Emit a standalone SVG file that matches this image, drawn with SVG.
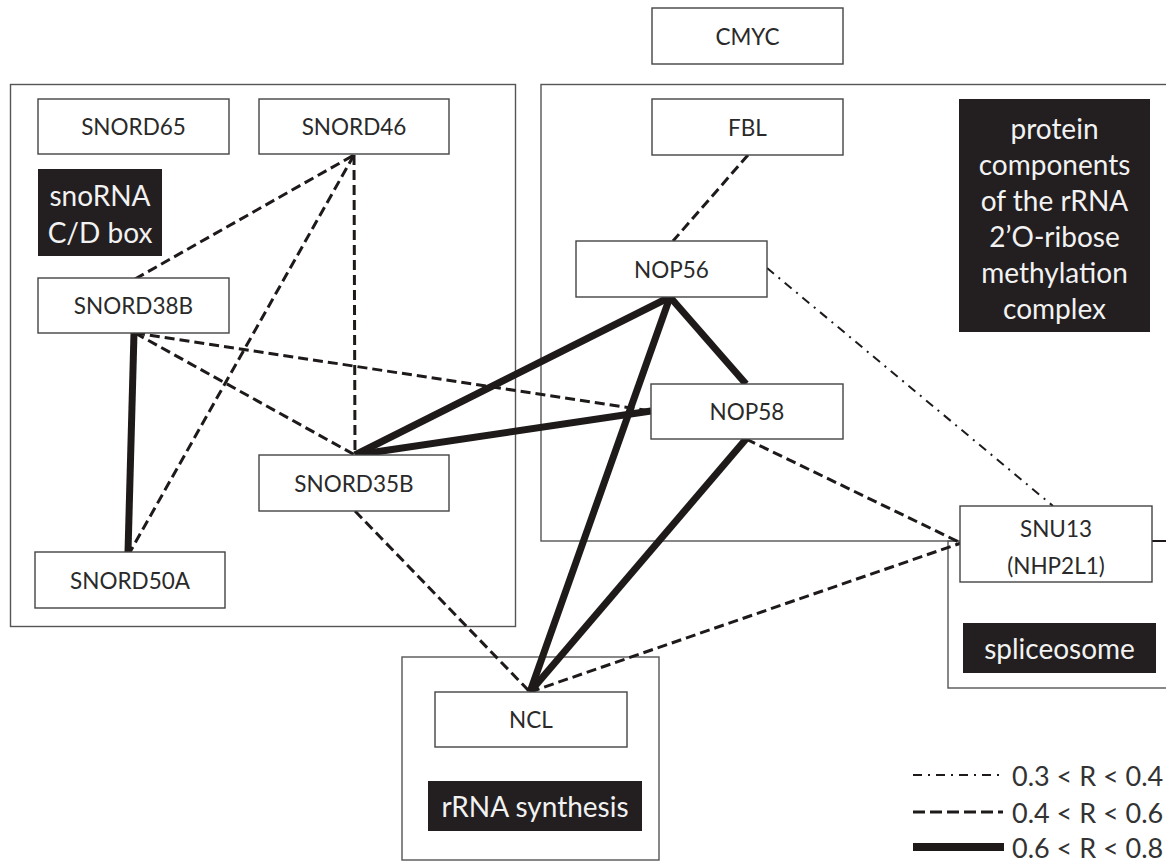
<svg xmlns="http://www.w3.org/2000/svg" width="1166" height="863" viewBox="0 0 1166 863">
<style>
.grp{fill:none;stroke:#555;stroke-width:1.4}
.node rect{fill:#fff;stroke:#444;stroke-width:1.4}
.node text{font-family:Lato,"Open Sans",sans-serif;font-size:22.5px;fill:#2a2a2a;text-anchor:middle;dominant-baseline:central}
.lbl rect{fill:#231f20}
.lbl text{font-family:Lato,"Open Sans",sans-serif;font-size:28px;fill:#f2f2f2;text-anchor:middle;dominant-baseline:central}
.solid{stroke:#1e1a1a;stroke-width:7;fill:none;stroke-linecap:butt}
.dash{stroke:#1e1a1a;stroke-width:3;fill:none;stroke-dasharray:10 5}
.dd{stroke:#1e1a1a;stroke-width:2;fill:none;stroke-dasharray:9 6 2 6}
.leg{font-family:Lato,"Open Sans",sans-serif;font-size:27px;fill:#333;dominant-baseline:central}
</style>
<rect width="1166" height="863" fill="#fff"/>
<g id="groups">
<rect class="grp" x="10.5" y="84.5" width="505" height="542"/>
<rect class="grp" x="541" y="84.5" width="700" height="456.5"/>
<rect class="grp" x="948" y="541" width="300" height="147"/>
<rect class="grp" x="402" y="657" width="257" height="203"/>
</g>
<g id="connectors">
<line class="dash" x1="135" y1="279" x2="354" y2="155"/>
<line class="dash" x1="354" y1="155" x2="355" y2="455"/>
<line class="dash" x1="354" y1="155" x2="130" y2="552"/>
<line class="dash" x1="135" y1="333" x2="355" y2="455"/>
<line class="dash" x1="135" y1="333" x2="651" y2="411"/>
<line class="dash" x1="355" y1="511" x2="530" y2="692"/>
<line class="dash" x1="748" y1="155" x2="673" y2="241"/>
<line class="dash" x1="746" y1="439" x2="961" y2="543"/>
<line class="dash" x1="530" y1="692" x2="961" y2="543"/>
<line class="dd" x1="767" y1="268" x2="1053" y2="506"/>
<line class="solid" x1="134" y1="333" x2="128" y2="552"/>
<line class="solid" x1="355" y1="455" x2="670" y2="297"/>
<line class="solid" x1="355" y1="455" x2="651" y2="411"/>
<line class="solid" x1="670" y1="297" x2="746" y2="384"/>
<line class="solid" x1="670" y1="297" x2="530" y2="692"/>
<line class="solid" x1="746" y1="439" x2="530" y2="692"/>
<line class="solid" x1="1152" y1="541" x2="1166" y2="541" style="stroke-width:2"/>
</g>
<g id="SNORD65" class="node"><rect x="38" y="99" width="191" height="55"/><text x="133.5" y="126.5">SNORD65</text></g>
<g id="SNORD46" class="node"><rect x="259" y="99" width="190" height="55"/><text x="354" y="126.5">SNORD46</text></g>
<g id="SNORD38B" class="node"><rect x="38" y="278" width="191" height="55"/><text x="133.5" y="305.5">SNORD38B</text></g>
<g id="SNORD35B" class="node"><rect x="259" y="455" width="190" height="56"/><text x="354" y="483">SNORD35B</text></g>
<g id="SNORD50A" class="node"><rect x="35" y="552" width="190" height="56"/><text x="130" y="580">SNORD50A</text></g>
<g id="CMYC" class="node"><rect x="652" y="8" width="191" height="56"/><text x="747.5" y="36">CMYC</text></g>
<g id="FBL" class="node"><rect x="652" y="99" width="191" height="56"/><text x="747.5" y="127">FBL</text></g>
<g id="NOP56" class="node"><rect x="576" y="241" width="191" height="56"/><text x="671.5" y="269">NOP56</text></g>
<g id="NOP58" class="node"><rect x="651" y="384" width="192" height="55"/><text x="747" y="411.5">NOP58</text></g>
<g id="SNU13" class="node"><rect x="960" y="506" width="192" height="76"/><text x="1056" y="528">SNU13</text><text x="1056" y="565">(NHP2L1)</text></g>
<g id="NCL" class="node"><rect x="435" y="692" width="192" height="55"/><text x="531" y="719.5">NCL</text></g>
<g id="label-snorna" class="lbl"><rect x="38" y="169" width="124" height="87"/><text x="100" y="195">snoRNA</text><text x="100" y="232">C/D box</text></g>
<g id="label-protein" class="lbl"><rect x="959" y="99" width="191" height="233"/>
<text x="1054.5" y="128">protein</text><text x="1054.5" y="164">components</text><text x="1054.5" y="200">of the rRNA</text><text x="1054.5" y="236">2’O-ribose</text><text x="1054.5" y="272">methylation</text><text x="1054.5" y="308">complex</text></g>
<g id="label-spliceosome" class="lbl"><rect x="963" y="623" width="193" height="50"/><text x="1059.5" y="648">spliceosome</text></g>
<g id="label-rrna" class="lbl"><rect x="428" y="781" width="214" height="50"/><text x="535" y="806">rRNA synthesis</text></g>
<g id="legend">
<line class="dd" x1="913" y1="775" x2="1003" y2="775"/>
<line class="dash" x1="913" y1="812" x2="1003" y2="812" style="stroke-dasharray:12 5"/>
<line class="solid" x1="913" y1="847" x2="1004" y2="847" style="stroke-width:8"/>
<text class="leg" x="1012" y="775">0.3 &lt; R &lt; 0.4</text>
<text class="leg" x="1012" y="812">0.4 &lt; R &lt; 0.6</text>
<text class="leg" x="1012" y="847">0.6 &lt; R &lt; 0.8</text>
</g>
</svg>
